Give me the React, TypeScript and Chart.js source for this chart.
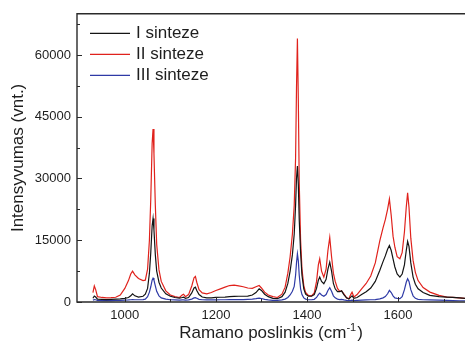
import React, { useEffect, useRef } from "react";
import { Chart, registerables } from "chart.js";

Chart.register(...registerables);

// Raman shift, cm^-1
const shift = [
  930, 933, 936, 940, 950, 960, 970, 980, 990, 1000,
  1008, 1013, 1017, 1022, 1030, 1040, 1045, 1050, 1054, 1057,
  1060, 1062, 1064, 1067, 1070, 1075, 1080, 1090, 1100, 1110,
  1120, 1126, 1129, 1133, 1140, 1147, 1152, 1155, 1158, 1163,
  1170, 1180, 1190, 1200, 1210, 1220, 1230, 1240, 1250, 1260,
  1270, 1280, 1288, 1295, 1300, 1307, 1315, 1325, 1335, 1345,
  1352, 1358, 1363, 1368, 1372, 1375, 1377, 1379, 1381, 1383,
  1386, 1389, 1393, 1397, 1403, 1410, 1416, 1421, 1425, 1428,
  1432, 1437, 1442, 1446, 1450, 1454, 1458, 1462, 1467, 1472,
  1476, 1481, 1487, 1492, 1496, 1499, 1503, 1510, 1520, 1530,
  1540, 1550, 1560, 1567, 1572, 1577, 1581, 1585, 1589, 1593,
  1598, 1604, 1609, 1614, 1618, 1621, 1624, 1628, 1633, 1638,
  1644, 1655, 1670, 1690, 1707, 1720, 1735, 1747,
];

// Intensity, a.u.
const synthesisI = [
  900, 1450, 1200, 700, 650, 600, 650, 700, 750, 900,
  1100, 1500, 2000, 1500, 1200, 1400, 1900, 3300, 7000, 12000,
  18500, 20300, 17500, 11500, 7500, 4800, 3400, 2000, 1400, 1100,
  950, 1100, 1200, 900, 1100, 2200, 3400, 3600, 2800, 1800,
  1200, 1000, 1000, 1100, 1150, 1200, 1300, 1350, 1400, 1400,
  1450, 1700, 2300, 3200, 2800, 1900, 1300, 900, 800, 1300,
  2400, 4500, 7500, 11500, 16500, 23500, 30000, 33000, 28500, 20000,
  12000, 6500, 3200, 1900, 1400, 1400, 1800, 3300, 5300, 6050,
  5000, 4450, 5500, 8000, 9700, 7500, 4500, 3200, 2500, 2500,
  2700, 1800, 1000, 700, 1200, 1500, 900, 1100, 1800, 2500,
  3400, 5000, 7700, 9800, 11200, 12800, 13700, 12500, 10500, 8500,
  6800, 6050, 6800, 9000, 12500, 14700, 13500, 9500, 6050, 4300,
  3200, 2300, 1600, 1300, 1200, 1100, 1000, 900,
];

const synthesisII = [
  2300, 3900, 3000, 1300, 1100, 1000, 1050, 1150, 1700, 3300,
  5200, 6800, 7500, 6600, 5700, 5200, 5300, 8000, 15000, 25000,
  38500, 42000, 36000, 23500, 14000, 7800, 5000, 2700, 1700, 1300,
  1100, 1700, 1900, 1300, 1800, 3900, 5900, 6200, 4800, 3000,
  2200, 2000, 2300, 2800, 3200, 3600, 4000, 4100, 3900, 3700,
  3400, 3300, 3700, 4000, 3400, 2400, 1700, 1300, 1100, 1900,
  3600, 7000, 11000, 16500, 23500, 35000, 52000, 64000, 49000, 29000,
  15000, 8000, 4000, 2300, 1600, 1500, 2200, 5000, 9000, 10500,
  7500, 6050, 8000, 12500, 15700, 11000, 7000, 5000, 3300, 2600,
  2700, 2000, 1000, 800, 1800, 2400, 1200, 1800, 3200, 4500,
  6300, 9500, 14900, 18000, 20000, 22500, 25000, 21000, 16000, 13300,
  11000, 10500, 12000, 17000, 23000, 26500, 23000, 15500, 10100, 7200,
  5200, 3500, 2400, 1600, 1200, 1100, 1000, 900,
];

const synthesisIII = [
  400, 600, 550, 400, 350, 350, 350, 380, 400, 450,
  500, 550, 600, 550, 550, 600, 700, 1300, 2400, 3700,
  5300, 5800, 5300, 3900, 2600, 1500, 1000, 700, 550, 500,
  450, 500, 500, 450, 500, 700, 1000, 1050, 900, 650,
  550, 500, 500, 500, 550, 550, 600, 600, 600, 600,
  650, 700, 800, 950, 850, 650, 500, 400, 400, 500,
  700, 1100, 1700, 2600, 3800, 6500, 9500, 11700, 10000, 6500,
  3200, 1800, 1000, 700, 550, 550, 650, 1100, 1800, 2180,
  1700, 1380, 1800, 2800, 3480, 2600, 1500, 1000, 700, 600,
  650, 500, 400, 350, 400, 450, 350, 400, 450, 500,
  550, 600, 750, 1000, 1300, 2000, 2830, 2300, 1500, 1000,
  900, 820, 1300, 3000, 4800, 5660, 5000, 3000, 1500, 900,
  650, 550, 500, 450, 400, 350, 300, 300,
];

const seriesLabels = ["I sinteze", "II sinteze", "III sinteze"];
const seriesColors = ["#141414", "#e0221c", "#2e3aa6"];

const xMajorTicks = [1000, 1200, 1400, 1600];
const xMinorTicks = [1100, 1300, 1500, 1700];
const yMajorTicks = [0, 15000, 30000, 45000, 60000];
const yMinorTicks = [7500, 22500, 37500, 52500, 67500];

const FONT = "'Liberation Sans', Arial, sans-serif";
const AXIS_COLOR = "#2a2a2a";
const TEXT_COLOR = "#1e1e1e";

// Frame (left, bottom, top) with inward-pointing major/minor ticks
const framePlugin = {
  id: "frame",
  afterDatasetsDraw(chart: any) {
    const { ctx, chartArea, scales } = chart;
    const { left, right, top, bottom } = chartArea;
    ctx.save();
    ctx.strokeStyle = AXIS_COLOR;
    ctx.lineWidth = 1.4;
    ctx.beginPath();
    ctx.moveTo(right + 2, top);
    ctx.lineTo(left, top);
    ctx.lineTo(left, bottom);
    ctx.lineTo(right + 2, bottom);
    ctx.stroke();

    ctx.lineWidth = 1;
    ctx.beginPath();
    xMajorTicks.forEach((v) => {
      const px = Math.round(scales.x.getPixelForValue(v)) + 0.5;
      ctx.moveTo(px, bottom);
      ctx.lineTo(px, bottom - 5);
    });
    xMinorTicks.forEach((v) => {
      const px = Math.round(scales.x.getPixelForValue(v)) + 0.5;
      ctx.moveTo(px, bottom);
      ctx.lineTo(px, bottom - 3);
    });
    yMajorTicks.forEach((v) => {
      const py = Math.round(scales.y.getPixelForValue(v)) + 0.5;
      ctx.moveTo(left, py);
      ctx.lineTo(left + 5, py);
    });
    yMinorTicks.forEach((v) => {
      const py = Math.round(scales.y.getPixelForValue(v)) + 0.5;
      ctx.moveTo(left, py);
      ctx.lineTo(left + 3, py);
    });
    ctx.stroke();
    ctx.restore();
  },
};

// Legend in the upper-left corner of the plot
const legendPlugin = {
  id: "cornerLegend",
  afterDraw(chart: any) {
    const { ctx, chartArea } = chart;
    ctx.save();
    ctx.font = `17px ${FONT}`;
    ctx.textBaseline = "middle";
    ctx.textAlign = "left";
    chart.data.datasets.forEach((ds: any, i: number) => {
      const y = chartArea.top + 19 + i * 21;
      const x0 = chartArea.left + 13;
      ctx.strokeStyle = ds.borderColor;
      ctx.lineWidth = 1.2;
      ctx.beginPath();
      ctx.moveTo(x0, y + 0.5);
      ctx.lineTo(x0 + 40, y + 0.5);
      ctx.stroke();
      ctx.fillStyle = TEXT_COLOR;
      ctx.fillText(ds.label, x0 + 46, y + 1);
    });
    ctx.restore();
  },
};

// X axis title with a superscript exponent
const xTitlePlugin = {
  id: "xTitle",
  afterDraw(chart: any) {
    const { ctx, chartArea } = chart;
    const main = "Ramano poslinkis (cm";
    const sup = "-1";
    const close = ")";
    ctx.save();
    ctx.fillStyle = TEXT_COLOR;
    ctx.textBaseline = "alphabetic";
    ctx.textAlign = "left";
    ctx.font = `17px ${FONT}`;
    const wMain = ctx.measureText(main).width;
    const wClose = ctx.measureText(close).width;
    ctx.font = `11px ${FONT}`;
    const wSup = ctx.measureText(sup).width;
    const total = wMain + wSup + 1 + wClose;
    const x = (chartArea.left + chartArea.right) / 2 - total / 2;
    const base = 338;
    ctx.font = `17px ${FONT}`;
    ctx.fillText(main, x, base);
    ctx.font = `11px ${FONT}`;
    ctx.fillText(sup, x + wMain, base - 7);
    ctx.font = `17px ${FONT}`;
    ctx.fillText(close, x + wMain + wSup + 1, base);
    ctx.restore();
  },
};

export default function App() {
  const canvasRef = useRef<HTMLCanvasElement | null>(null);

  useEffect(() => {
    const canvas = canvasRef.current;
    if (!canvas) return;
    const series = [synthesisI, synthesisII, synthesisIII];
    const chart = new Chart(canvas, {
      type: "line",
      data: {
        datasets: series.map((vals, i) => ({
          label: seriesLabels[i],
          data: shift.map((x, j) => ({ x, y: vals[j] })),
          borderColor: seriesColors[i],
          borderWidth: 1.2,
          pointRadius: 0,
          tension: 0,
          fill: false,
        })),
      },
      options: {
        animation: false,
        responsive: false,
        devicePixelRatio: 1,
        layout: { padding: { top: 13, right: 0, bottom: 0, left: 0 } },
        plugins: {
          legend: { display: false },
          tooltip: { enabled: false },
        },
        scales: {
          x: {
            type: "linear",
            min: 895,
            max: 1747,
            grid: { display: false, drawTicks: false },
            border: { display: false },
            ticks: {
              font: { family: FONT, size: 13 },
              color: TEXT_COLOR,
              padding: 6,
              maxRotation: 0,
              callback: (v: any) => String(v),
            },
            afterBuildTicks: (scale: any) => {
              scale.ticks = xMajorTicks.map((value) => ({ value }));
            },
            afterFit: (scale: any) => {
              scale.height = 41;
            },
          },
          y: {
            type: "linear",
            min: 0,
            max: 70000,
            grid: { display: false, drawTicks: false },
            border: { display: false },
            ticks: {
              font: { family: FONT, size: 13 },
              color: TEXT_COLOR,
              padding: 6,
              callback: (v: any) => String(v),
            },
            afterBuildTicks: (scale: any) => {
              scale.ticks = yMajorTicks.map((value) => ({ value }));
            },
            afterFit: (scale: any) => {
              scale.width = 77;
            },
            title: {
              display: true,
              text: "Intensyvumas (vnt.)",
              font: { family: FONT, size: 17 },
              color: TEXT_COLOR,
              padding: { top: 8, bottom: 0 },
            },
          },
        },
      },
      plugins: [framePlugin, legendPlugin, xTitlePlugin],
    });
    return () => chart.destroy();
  }, []);

  return (
    <div
      style={{
        position: "fixed",
        left: 0,
        top: 0,
        width: 465,
        height: 343,
        background: "#fff",
      }}
    >
      <canvas ref={canvasRef} width={465} height={343} />
    </div>
  );
}
